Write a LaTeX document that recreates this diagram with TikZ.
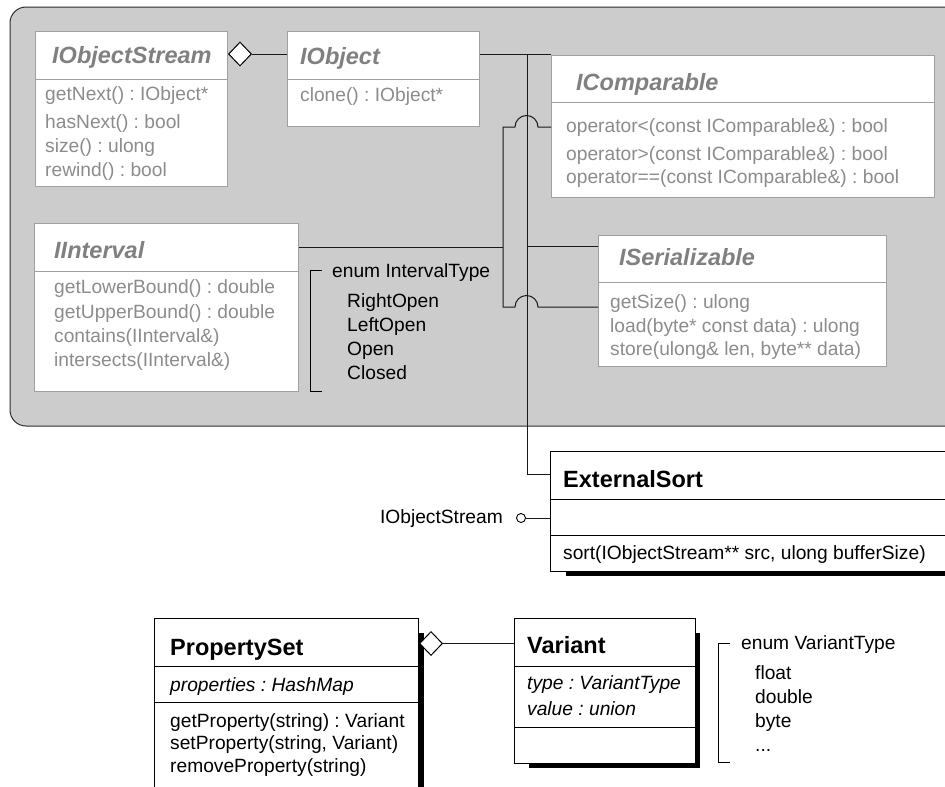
\documentclass[tikz,border=0pt]{standalone}
\usepackage{fontspec}
\setmainfont{Liberation Sans}
\usetikzlibrary{shapes.geometric}
\frenchspacing

\definecolor{panelfill}{RGB}{204,204,204}
\definecolor{panelline}{RGB}{45,45,45}
\definecolor{ifborder}{RGB}{160,160,160}
\definecolor{iftitle}{RGB}{128,128,128}
\definecolor{ifmember}{RGB}{140,140,140}
\definecolor{connline}{RGB}{25,25,25}

\newcommand{\titlefont}{\fontsize{23.5}{28}\selectfont\bfseries}
\newcommand{\bodyfont}{\fontsize{19.2}{23}\selectfont}

\tikzset{
  ifbox/.style={draw=ifborder, fill=white, line width=1pt, rectangle, anchor=north west, inner sep=0},
  clsbox/.style={draw=black, fill=white, line width=1pt, rectangle, anchor=north west, inner sep=0},
  ifsep/.style={draw=ifborder, line width=1pt},
  clssep/.style={draw=black, line width=1pt},
  conn/.style={draw=connline, line width=1pt},
  aggr/.style={diamond, draw=black, fill=white, line width=1pt, inner sep=0, minimum width=23pt, minimum height=24pt},
  lolli/.style={circle, draw=black, fill=white, line width=0.9pt, inner sep=0, minimum size=9pt},
  shade/.style={fill=black, draw=none},
  txt/.style={inner sep=0, anchor=base west, font=\bodyfont},
  iftitletxt/.style={txt, font=\titlefont\itshape, text=iftitle},
  ifmembertxt/.style={txt, text=ifmember},
  clstitletxt/.style={txt, font=\titlefont, text=black},
  clsmembertxt/.style={txt, text=black},
  clsattrtxt/.style={txt, font=\bodyfont\itshape, text=black},
  enumtxt/.style={txt, text=black},
  bracket/.style={draw=black, line width=1pt},
}

\begin{document}
\begin{tikzpicture}[x=1pt, y=-1pt]
\useasboundingbox (0,0) rectangle (945,787);
\clip (0,0) rectangle (945,787);
\fill[white] (0,0) rectangle (945,787);

% package panel holding the interfaces
\draw[draw=panelline, fill=panelfill, line width=1pt, rounded corners=16pt] (10,7) rectangle (990,426);

% ---------- interface boxes ----------
\node[ifbox, minimum width=192pt, minimum height=155pt] (ios) at (35,31) {};
\draw[ifsep] (ios.west |- 0,79) -- (ios.east |- 0,79);
\node[iftitletxt] (iosT) at (52,63) {IObjectStream};
\node[ifmembertxt] (iosM1) at (45,100) {getNext() : IObject*};
\node[ifmembertxt] (iosM2) at (45,128) {hasNext() : bool};
\node[ifmembertxt] (iosM3) at (45,152) {size() : ulong};
\node[ifmembertxt] (iosM4) at (45,176) {rewind() : bool};

\node[ifbox, minimum width=192pt, minimum height=95pt] (iobj) at (287,31) {};
\draw[ifsep] (iobj.west |- 0,79) -- (iobj.east |- 0,79);
\node[iftitletxt] (iobjT) at (300,64) {IObject};
\node[ifmembertxt] (iobjM1) at (300,101) {clone() : IObject*};

\node[ifbox, minimum width=383pt, minimum height=142pt] (icmp) at (551,55) {};
\draw[ifsep] (icmp.west |- 0,102) -- (icmp.east |- 0,102);
\node[iftitletxt] (icmpT) at (576,90) {IComparable};
\node[ifmembertxt] (icmpM1) at (566,132) {operator<(const IComparable\&) : bool};
\node[ifmembertxt] (icmpM2) at (566,160) {operator>(const IComparable\&) : bool};
\node[ifmembertxt] (icmpM3) at (566,183) {operator==(const IComparable\&) : bool};

\node[ifbox, minimum width=264pt, minimum height=168pt] (iint) at (34,223) {};
\draw[ifsep] (iint.west |- 0,271) -- (iint.east |- 0,271);
\node[iftitletxt] (iintT) at (54,258) {IInterval};
\node[ifmembertxt] (iintM1) at (54,293) {getLowerBound() : double};
\node[ifmembertxt] (iintM2) at (54,318) {getUpperBound() : double};
\node[ifmembertxt] (iintM3) at (54,342) {contains(IInterval\&)};
\node[ifmembertxt] (iintM4) at (54,366) {intersects(IInterval\&)};

\node[ifbox, minimum width=288pt, minimum height=131pt] (iser) at (598,235) {};
\draw[ifsep] (iser.west |- 0,282) -- (iser.east |- 0,282);
\node[iftitletxt] (iserT) at (619,265) {ISerializable};
\node[ifmembertxt] (iserM1) at (610,308) {getSize() : ulong};
\node[ifmembertxt] (iserM2) at (610,332) {load(byte* const data) : ulong};
\node[ifmembertxt] (iserM3) at (610,355) {store(ulong\& len, byte** data)};

% enum IntervalType
\draw[bracket] (322,270) -- (310,270) -- (310,391) -- (322,391);
\node[enumtxt] (ienT) at (332,277) {enum IntervalType};
\node[enumtxt] (ien1) at (347,307) {RightOpen};
\node[enumtxt] (ien2) at (347,331) {LeftOpen};
\node[enumtxt] (ien3) at (347,355) {Open};
\node[enumtxt] (ien4) at (347,379) {Closed};

% ---------- connectors inside the panel ----------
\node[aggr, anchor=west] (iosAgg) at (ios.east |- 0,54) {};
\draw[conn] (iosAgg.east) -- (iobj.west |- iosAgg.east);

\coordinate (busTop) at (527,54);
\coordinate (busLeftTop) at (503,127);
\coordinate (busLeftBot) at (503,307);
\draw[conn] (iobj.east |- busTop) -- (icmp.west |- busTop);
\draw[conn] (iser.west |- 0,246) -- (busTop |- 0,246);
\draw[conn] (iint.east |- 0,247) -- (busLeftTop |- 0,247);
\draw[conn] (icmp.west |- busLeftTop) -- (538,127)
      arc[start angle=0, end angle=180, radius=11.5pt] -- (busLeftTop)
      -- (busLeftBot) -- (515,307)
      arc[start angle=180, end angle=0, radius=11.5pt] -- (iser.west |- busLeftBot);

% ---------- ExternalSort ----------
\fill[shade] (566,571) rectangle (995,576);
\node[clsbox, minimum width=440pt, minimum height=120pt] (ext) at (550,451) {};
\draw[clssep] (ext.west |- 0,499) -- (ext.east |- 0,499);
\draw[clssep] (ext.west |- 0,535) -- (ext.east |- 0,535);
\node[clstitletxt] (extT) at (563,487) {ExternalSort};
\node[clsmembertxt] (extM1) at (563,559) {sort(IObjectStream** src, ulong bufferSize)};

\draw[conn] (busTop) |- (ext.west |- 0,474);

\node[lolli] (lol) at (521,518) {};
\draw[conn] (lol.east) -- (ext.west |- lol.east);
\node[txt, anchor=base east] (lolT) at (503,523) {IObjectStream};

% ---------- PropertySet ----------
\fill[shade] (418,633) rectangle (424,800);
\node[clsbox, minimum width=264pt, minimum height=182pt] (pset) at (154,618) {};
\draw[clssep] (pset.west |- 0,666) -- (pset.east |- 0,666);
\draw[clssep] (pset.west |- 0,702) -- (pset.east |- 0,702);
\node[clstitletxt] (psetT) at (170,655) {PropertySet};
\node[clsattrtxt] (psetA1) at (170,691) {properties : HashMap};
\node[clsmembertxt] (psetM1) at (170,727) {getProperty(string) : Variant};
\node[clsmembertxt] (psetM2) at (170,749) {setProperty(string, Variant)};
\node[clsmembertxt] (psetM3) at (170,772) {removeProperty(string)};

% ---------- Variant ----------
\fill[shade] (695,633) rectangle (700,768);
\fill[shade] (529,763) rectangle (700,768);
\node[clsbox, minimum width=181pt, minimum height=145pt] (var) at (514,618) {};
\draw[clssep] (var.west |- 0,666) -- (var.east |- 0,666);
\draw[clssep] (var.west |- 0,727) -- (var.east |- 0,727);
\node[clstitletxt] (varT) at (527,653) {Variant};
\node[clsattrtxt] (varA1) at (527,689) {type : VariantType};
\node[clsattrtxt] (varA2) at (527,715) {value : union};

\node[aggr, anchor=west] (psetAgg) at (pset.east |- 0,643.5) {};
\draw[conn] (psetAgg.east) -- (var.west |- psetAgg.east);

% enum VariantType
\draw[bracket] (730,643) -- (718,643) -- (718,762) -- (730,762);
\node[enumtxt] (venT) at (741,649) {enum VariantType};
\node[enumtxt] (ven1) at (755,679) {float};
\node[enumtxt] (ven2) at (755,703) {double};
\node[enumtxt] (ven3) at (755,727) {byte};
\node[enumtxt] (ven4) at (755,751) {...};
\end{tikzpicture}
\end{document}
